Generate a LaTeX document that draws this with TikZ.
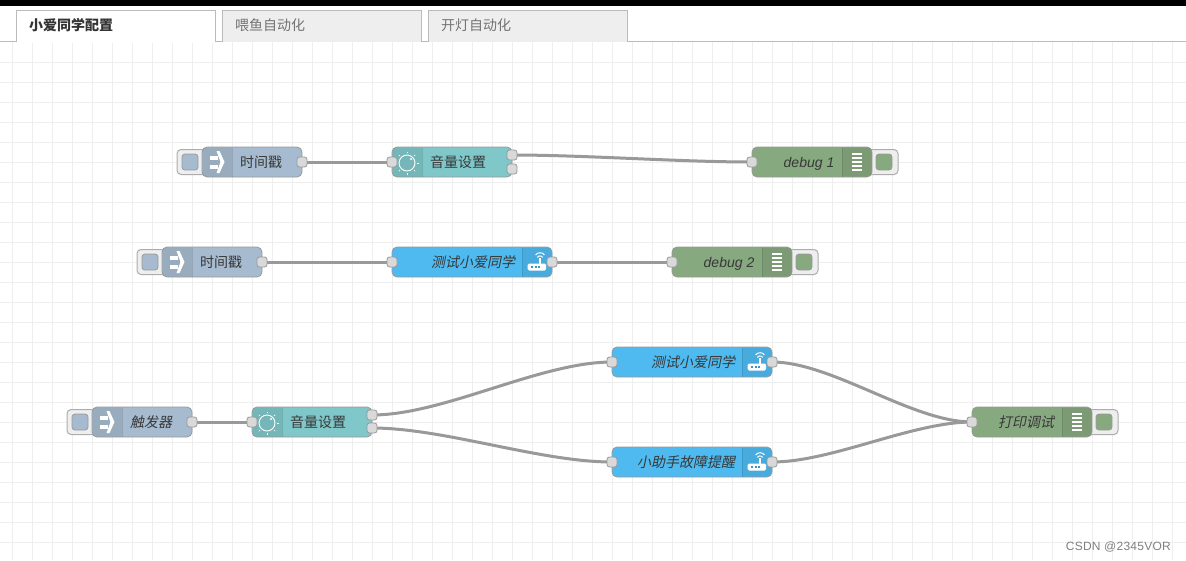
\documentclass[tikz,border=0pt]{standalone}
\usepackage{fontspec}
\setmainfont{Liberation Sans}
\newfontfamily\cjk{Noto Sans CJK SC}
\newfontfamily\cjkslant[FakeSlant=0.2]{Noto Sans CJK SC}
\newfontfamily\wmfont[LetterSpace=2]{Liberation Sans}
\pgfdeclarelayer{wires}
\pgfdeclarelayer{gridlayer}
\pgfsetlayers{gridlayer,wires,main}
\definecolor{injectc}{HTML}{A6BBCF}
\definecolor{funcc}{HTML}{7FC7C9}
\definecolor{bluec}{HTML}{4FBAF0}
\definecolor{debugc}{HTML}{87A980}
\definecolor{gridc}{HTML}{EEEEEE}
\definecolor{edgec}{HTML}{999999}
\definecolor{portc}{HTML}{D9D9D9}
\definecolor{tabc}{HTML}{BBBBBB}
\tikzset{
  x=1pt,y=-1pt,
  nrbody/.style={draw=edgec,line width=0.8pt,rounded corners=5pt,anchor=north west,minimum height=30pt,inner sep=0pt,outer sep=0pt},
  nrlabel/.style={text=black!78,font=\fontsize{14}{14}\selectfont\cjk,inner sep=0pt},
  nrslant/.style={text=black!78,font=\fontsize{14}{14}\selectfont\cjkslant,inner sep=0pt},
  nrdebug/.style={text=black!78,font=\fontsize{14}{14}\selectfont\itshape,inner sep=0pt,text height=14pt,text depth=3pt},
  nrport/.style={draw=edgec,fill=portc,line width=0.8pt,rounded corners=2.5pt,minimum width=10pt,minimum height=10pt,inner sep=0pt,outer sep=0pt},
  nrbutton/.style={draw=edgec!80,fill=gridc,line width=1pt,rounded corners=4pt},
  nrinner/.style={draw=edgec,line width=0.8pt,rounded corners=3pt},
  wirestyle/.style={draw=edgec,line width=3pt},
  tabstyle/.style={draw=tabc,line width=1pt},
  icon/.style={white},
}
% name, x, y, width, colour, divider offset from left
\newcommand{\nrbox}[6]{%
  \node[nrbody,fill=#5,minimum width=#4pt] (#1) at (#2,#3) {};
  \begin{scope}[shift={(#2,#3)}]
    \ifnum#6<50
      \fill[black,opacity=.08] (#6,0.5) [rounded corners=4.5pt] -- (0.5,0.5) -- (0.5,29.5) [sharp corners] -- (#6,29.5) -- cycle;
    \else
      \fill[black,opacity=.08] (#6,0.5) [rounded corners=4.5pt] -- (#4-0.5,0.5) -- (#4-0.5,29.5) [sharp corners] -- (#6,29.5) -- cycle;
    \fi
    \draw[black,opacity=.10,line width=.8pt] (#6,0.5) -- (#6,29.5);
  \end{scope}}
\newcommand{\arrowicon}[2]{%
  \begin{scope}[shift={(#1,#2)}]
    \fill[icon] (8,8.5) rectangle (15.5,12.5);
    \fill[icon] (8,17.5) rectangle (15.5,21.5);
    \fill[icon] (14.5,4) -- (17.5,4) -- (22.5,15) -- (17.5,26) -- (14.5,26) -- (18.5,15) -- cycle;
  \end{scope}}
\newcommand{\dialicon}[2]{%
  \begin{scope}[shift={(#1+15,#2+16)}]
    \draw[icon,line width=.9pt] (0,0) circle[radius=8];
    \fill[icon] (4,-4) circle[radius=1.2];
    \foreach \a in {-45,0,45,90,135,180,225,270}
      \draw[icon,line width=.7pt] (\a:10) -- (\a:11.5);
  \end{scope}}
\newcommand{\routericon}[2]{%
  \begin{scope}[shift={(#1,#2)}]
    \fill[icon,rounded corners=1.5pt] (5.5,16.5) rectangle (24,23.5);
    \draw[icon,line width=1.2pt] (18,17) -- (18,11);
    \draw[icon,line width=1pt] (15.3,10.4) arc[start angle=210,end angle=330,radius=3.1];
    \draw[icon,line width=1pt] (13.6,8) arc[start angle=215,end angle=325,radius=5.4];
    \foreach \q in {10,13.5,17}
      \fill[bluec!80!black] (\q-1,19.3) rectangle (\q+1,21.2);
  \end{scope}}
\newcommand{\debugicon}[2]{%
  \begin{scope}[shift={(#1,#2)}]
    \foreach \q in {7,11,15,19,23}
      \draw[icon,line width=1.2pt] (10,\q) -- (20,\q);
  \end{scope}}
% button on left of an inject node at body x,y
\newcommand{\leftbutton}[3]{%
  \draw[nrbutton] (#1-25,#2+2.5) rectangle (#1+6,#2+27.5);
  \draw[nrinner,fill=#3] (#1-20,#2+7) rectangle (#1-4,#2+23);}
\newcommand{\rightbutton}[3]{%
  \draw[nrbutton] (#1-6,#2+2.5) rectangle (#1+26,#2+27.5);
  \draw[nrinner,fill=#3] (#1+4,#2+7) rectangle (#1+20,#2+23);}
\begin{document}
\begin{tikzpicture}
\useasboundingbox (0,0) rectangle (1186,560);
\begin{pgfonlayer}{gridlayer}
  \fill[white] (0,0) rectangle (1186,560);
  \foreach \gx in {12,32,...,1172} \draw[gridc,line width=1pt] (\gx,42) -- (\gx,560);
  \foreach \gy in {62,82,...,542} \draw[gridc,line width=1pt] (0,\gy) -- (1186,\gy);
  \fill[black] (0,0) rectangle (1186,6);
\end{pgfonlayer}
% tabs
\draw[tabstyle] (0,41.5) -- (1186,41.5);
\draw[tabstyle,fill=white] (16,42) -- (16,10.5) -- (215.5,10.5) -- (215.5,42);
\fill[white] (16.5,40) rectangle (215,43);
\draw[tabstyle,fill=gridc] (222.5,41.5) -- (222.5,10.5) -- (421.5,10.5) -- (421.5,41.5);
\draw[tabstyle,fill=gridc] (428.5,41.5) -- (428.5,10.5) -- (627.5,10.5) -- (627.5,41.5);
\node[anchor=west,inner sep=0pt,text=black!80,font=\fontsize{14}{14}\selectfont\cjk\bfseries] (tab1) at (29,25.5) {小爱同学配置};
\node[anchor=west,inner sep=0pt,text=black!55,font=\fontsize{14}{14}\selectfont\cjk] (tab2) at (235,25.5) {喂鱼自动化};
\node[anchor=west,inner sep=0pt,text=black!55,font=\fontsize{14}{14}\selectfont\cjk] (tab3) at (441,25.5) {开灯自动化};

% Row 1
\leftbutton{202}{147}{injectc}
\nrbox{inja}{202}{147}{100}{injectc}{30}
\arrowicon{202}{147}
\node[nrlabel] (inja-t) at (261,162) {时间戳};
\node[nrport] (inja-o) at (302,162) {};
\nrbox{vola}{392}{147}{120}{funcc}{30}
\dialicon{392}{147}
\node[nrlabel] (vola-t) at (458,162) {音量设置};
\node[nrport] (vola-i) at (392,162) {};
\node[nrport] (vola-o1) at (512,155) {};
\node[nrport] (vola-o2) at (512,169) {};
\rightbutton{872}{147}{debugc}
\nrbox{dbga}{752}{147}{120}{debugc}{90}
\debugicon{842}{147}
\node[nrdebug] (dbga-t) at (809,162) {debug 1};
\node[nrport] (dbga-i) at (752,162) {};

% Row 2
\leftbutton{162}{247}{injectc}
\nrbox{injb}{162}{247}{100}{injectc}{30}
\arrowicon{162}{247}
\node[nrlabel] (injb-t) at (221,262) {时间戳};
\node[nrport] (injb-o) at (262,262) {};
\nrbox{xa}{392}{247}{160}{bluec}{130}
\routericon{522}{247}
\node[nrslant] (xa-t) at (473,262) {测试小爱同学};
\node[nrport] (xa-i) at (392,262) {};
\node[nrport] (xa-o) at (552,262) {};
\rightbutton{792}{247}{debugc}
\nrbox{dbgb}{672}{247}{120}{debugc}{90}
\debugicon{762}{247}
\node[nrdebug] (dbgb-t) at (729,262) {debug 2};
\node[nrport] (dbgb-i) at (672,262) {};

% Row 3
\leftbutton{92}{407}{injectc}
\nrbox{injc}{92}{407}{100}{injectc}{30}
\arrowicon{92}{407}
\node[nrslant] (injc-t) at (151,422) {触发器};
\node[nrport] (injc-o) at (192,422) {};
\nrbox{volb}{252}{407}{120}{funcc}{30}
\dialicon{252}{407}
\node[nrlabel] (volb-t) at (318,422) {音量设置};
\node[nrport] (volb-i) at (252,422) {};
\node[nrport] (volb-o1) at (372,415) {};
\node[nrport] (volb-o2) at (372,428) {};
\nrbox{xb}{612}{347}{160}{bluec}{130}
\routericon{742}{347}
\node[nrslant] (xb-t) at (693,362) {测试小爱同学};
\node[nrport] (xb-i) at (612,362) {};
\node[nrport] (xb-o) at (772,362) {};
\nrbox{xc}{612}{447}{160}{bluec}{130}
\routericon{742}{447}
\node[nrslant] (xc-t) at (686,462) {小助手故障提醒};
\node[nrport] (xc-i) at (612,462) {};
\node[nrport] (xc-o) at (772,462) {};
\rightbutton{1092}{407}{debugc}
\nrbox{dbgc}{972}{407}{120}{debugc}{90}
\debugicon{1062}{407}
\node[nrslant] (dbgc-t) at (1026,422) {打印调试};
\node[nrport] (dbgc-i) at (972,422) {};

% Watermark
\node[anchor=east,inner sep=0pt,text=black!50,font=\fontsize{12}{12}\selectfont\wmfont] (wm) at (1171,546.5) {CSDN @2345VOR};

\begin{pgfonlayer}{wires}
  \draw[wirestyle] (inja-o.center) -- (vola-i.center);
  \draw[wirestyle] (vola-o1.center) .. controls +(72,0) and +(-72,0) .. (dbga-i.center);
  \draw[wirestyle] (injb-o.center) -- (xa-i.center);
  \draw[wirestyle] (xa-o.center) -- (dbgb-i.center);
  \draw[wirestyle] (injc-o.center) -- (volb-i.center);
  \draw[wirestyle] (volb-o1.center) .. controls +(72,0) and +(-72,0) .. (xb-i.center);
  \draw[wirestyle] (volb-o2.center) .. controls +(72,0) and +(-72,0) .. (xc-i.center);
  \draw[wirestyle] (xb-o.center) .. controls +(60,0) and +(-60,0) .. (dbgc-i.center);
  \draw[wirestyle] (xc-o.center) .. controls +(60,0) and +(-60,0) .. (dbgc-i.center);
\end{pgfonlayer}
\end{tikzpicture}
\end{document}
